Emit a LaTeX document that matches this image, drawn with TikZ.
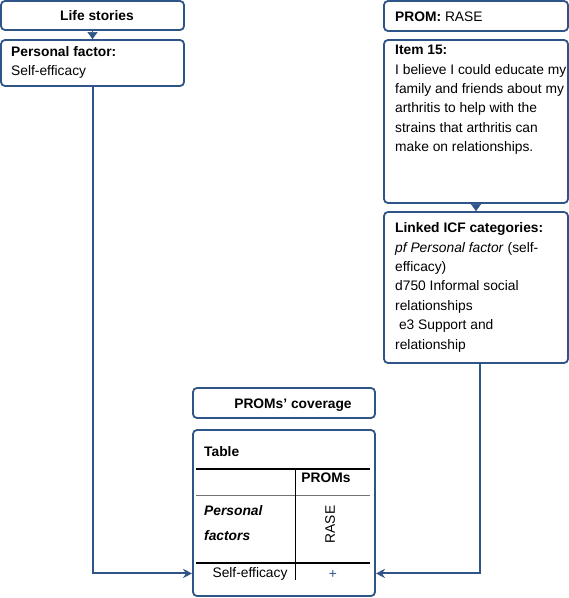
\documentclass[tikz,border=0pt]{standalone}
\usepackage{fontspec}
\setmainfont{Liberation Sans}
\usetikzlibrary{arrows.meta}
\definecolor{flowblue}{RGB}{46,84,136}
\begin{document}
\begin{tikzpicture}[x=1pt,y=-1pt]
        \tikzstyle{box}=[draw=flowblue,line width=1.8pt,rounded corners=4pt,inner sep=0pt]
        \tikzstyle{txt}=[inner sep=0pt,align=left,font=\fontsize{13.8}{19.4}\selectfont]
        \tikzstyle{link}=[draw=flowblue,line width=2pt,-{Stealth[length=9pt,width=9pt]}]
        \tikzstyle{drop}=[draw=flowblue,line width=0.4pt,-{Triangle[length=7pt,width=10pt]}]
        \tikzstyle{rule}=[draw=black,line width=1.3pt]
        \useasboundingbox (0,0) rectangle (569,598);
       \begin{scope}
         % left column
         \node [box,minimum width=183pt,minimum height=29pt] (life) at (92.5,15.5) {};
         \node [box,minimum width=183pt,minimum height=46pt] (pf) at (92.5,63) {};
         \node [txt,anchor=base] (lifet) at (97,20) {\textbf{Life stories}};
         \node [txt,anchor=north west] (pft) at (11,46) {\textbf{Personal factor:}\\Self-efficacy};
         % right column
         \node [box,minimum width=184pt,minimum height=30pt] (prom) at (476,16) {};
         \node [box,minimum width=184pt,minimum height=163pt] (item) at (476,121.5) {};
         \node [box,minimum width=184pt,minimum height=151pt] (icf) at (476,287.5) {};
         \node [txt,anchor=base west] (promt) at (395,21) {\textbf{PROM:} RASE};
         \node [txt,anchor=north west] (itemt) at (395,45) {\textbf{Item 15:}\\I believe I could educate my\\family and friends about my\\arthritis to help with the\\strains that arthritis can\\make on relationships.};
         \node [txt,anchor=north west] (icft) at (395,222.5) {\textbf{Linked ICF categories:}\\\textit{pf Personal factor} (self-\\efficacy)\\d750 Informal social\\relationships\\\ e3 Support and\\relationship};
         % coverage table
         \node [box,minimum width=182pt,minimum height=30pt] (cov) at (284,403) {};
         \node [box,minimum width=182pt,minimum height=166pt] (tab) at (284,513) {};
         \node [txt,anchor=base] (covt) at (293,408) {\textbf{PROMs' coverage}};
         \node [txt,anchor=base west] (tabt) at (204,456) {\textbf{Table}};
         \node [txt,anchor=base] (proms) at (326,482) {\textbf{PROMs}};
         \node [txt,anchor=base west] (pers) at (204,515) {\textbf{\textit{Personal}}};
         \node [txt,anchor=base west] (fact) at (204,540) {\textbf{\textit{factors}}};
         \node [txt,rotate=90] (rase) at (330,524.5) {RASE};
         \node [txt,anchor=base] (se) at (250,577) {Self-efficacy};
         \node [txt,text=flowblue] (plus) at (333,575) {+};
         \coordinate (r1w) at (196,469); \coordinate (r1e) at (370,469);
         \coordinate (r2w) at (196,495); \coordinate (r2e) at (370,495);
         \coordinate (r3w) at (196,563); \coordinate (r3e) at (370,563);
         \coordinate (ctop) at (295,469); \coordinate (cbot) at (295,580);
         \path[rule] (r1w) -- (r1e);
         \path[draw=black!55,line width=0.9pt] (r2w) -- (r2e);
         \path[rule] (r3w) -- (r3e);
         \path[draw=black,line width=0.9pt] (ctop) -- (cbot);
         % connectors
         \path[drop] (life.south) -- (pf.north);
         \path[drop] (item.south) -- (icf.north);
         \path[link] (pf.south) |- (se.west -| tab.west);
         \path[link] ([xshift=4pt]icf.south) |- (se.west -| tab.east);
        \end{scope}
      \end{tikzpicture}
\end{document}
